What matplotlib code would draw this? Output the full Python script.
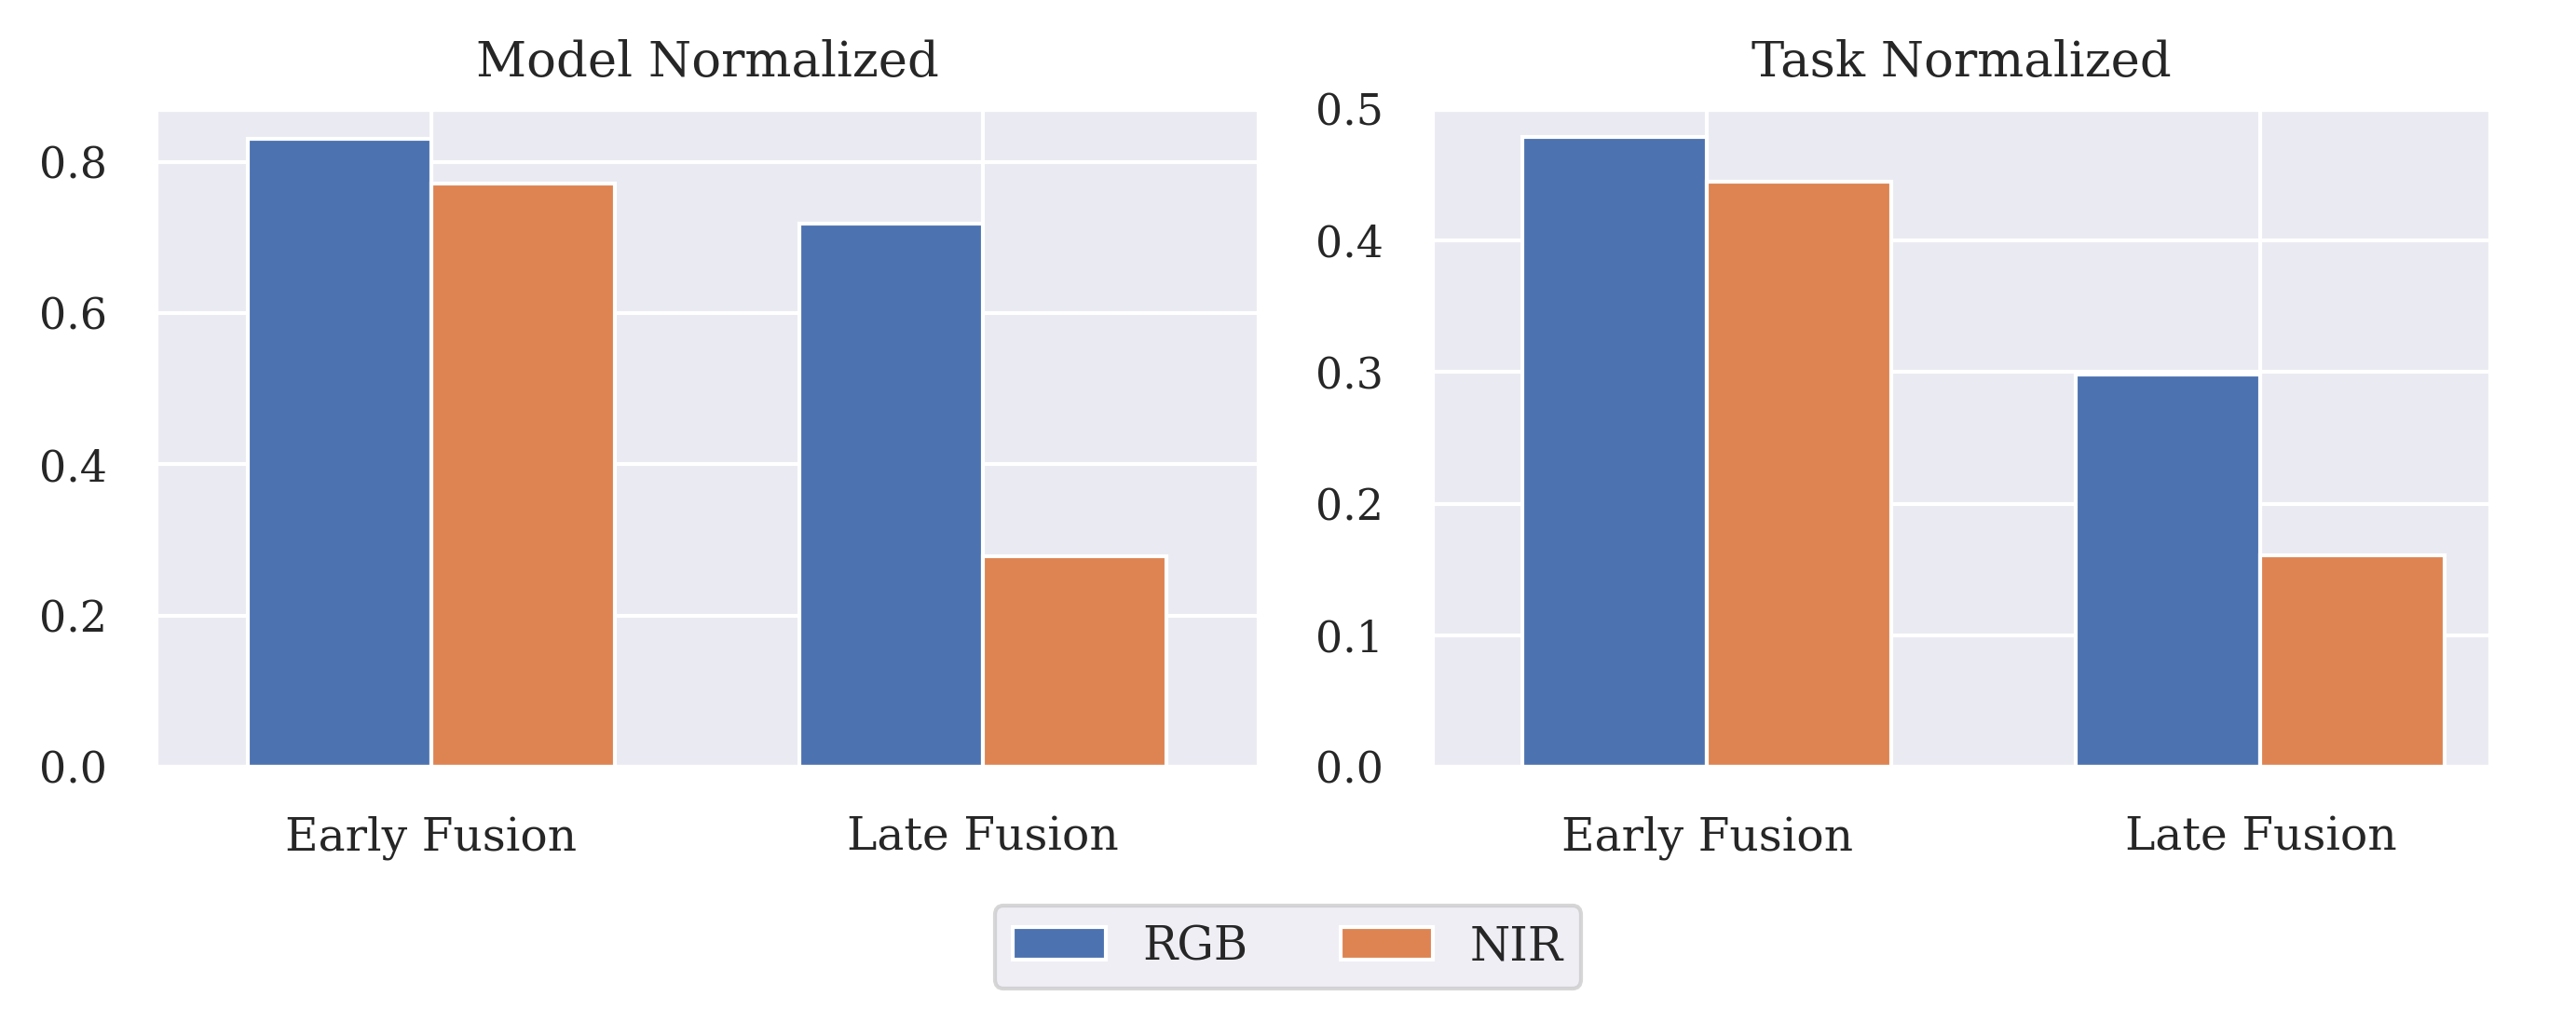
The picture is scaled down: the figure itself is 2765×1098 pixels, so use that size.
import matplotlib
matplotlib.use("Agg")
import matplotlib.pyplot as plt
import seaborn as sns
import numpy as np

categories = ["Early Fusion", "Late Fusion"]
series_names = ["RGB", "NIR"]
model_rgb = [0.831, 0.718]
model_nir = [0.772, 0.279]
task_rgb = [0.479, 0.298]
task_nir = [0.445, 0.161]
titles = ["Model Normalized", "Task Normalized"]

sns.set_theme(style="darkgrid")
plt.rcParams['font.family'] = ['DejaVu Serif']

colors = sns.color_palette("deep")[:2]

W, H = 2765, 1098
fig = plt.figure(figsize=(W/300, H/300), dpi=300)
top_px, bot_px = 117, 823
ax_boxes = [(167, 1351), (1537, 2673)]
axes = []
for l, r in ax_boxes:
    axes.append(fig.add_axes([l/W, 1 - bot_px/H, (r-l)/W, (bot_px-top_px)/H]))

x = np.arange(len(categories))
w = 1/3
data = [(model_rgb, model_nir), (task_rgb, task_nir)]
ylims = [0.870, 0.5]
xlims = [(-0.5, 1.5), (-0.497, 1.415)]
for ax, (rgb, nir), title, yl, xl in zip(axes, data, titles, ylims, xlims):
    ax.bar(x - w/2, rgb, width=w, color=colors[0], edgecolor="white", linewidth=1.0, label=series_names[0])
    ax.bar(x + w/2, nir, width=w, color=colors[1], edgecolor="white", linewidth=1.0, label=series_names[1])
    ax.set_xticks(x)
    ax.set_xticklabels(categories)
    ax.set_xlim(*xl)
    ax.set_ylim(0, yl)
    ax.set_title(title, fontsize=12.7, pad=8.5)
    ax.tick_params(axis='x', labelsize=11.7, pad=6.5)
    ax.tick_params(axis='y', labelsize=11, pad=6.5)

axes[0].set_yticks([0.0, 0.2, 0.4, 0.6, 0.8])
axes[1].set_yticks([0.0, 0.1, 0.2, 0.3, 0.4, 0.5])

handles, labels = axes[0].get_legend_handles_labels()
fig.legend(handles, labels, loc="center", bbox_to_anchor=(0.5, 0.0743), ncol=2, fontsize=11.9)

fig.savefig("out.png", dpi=300)
